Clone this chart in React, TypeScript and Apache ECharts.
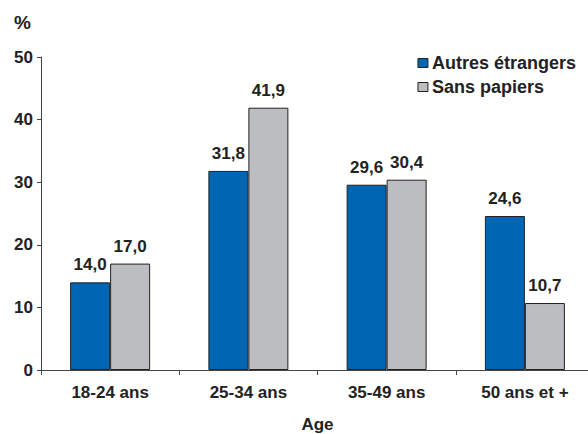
import React, { useEffect, useRef } from "react";
import * as echarts from "echarts";

const categories = ["18-24 ans", "25-34 ans", "35-49 ans", "50 ans et +"];
const autresEtrangers = [14.0, 31.8, 29.6, 24.6];
const sansPapiers = [17.0, 41.9, 30.4, 10.7];
const yTicks = [0, 10, 20, 30, 40, 50];

const FONT = "'Liberation Sans', Arial, sans-serif";

export default function App() {
  const ref = useRef<HTMLDivElement>(null);
  useEffect(() => {
    if (!ref.current) return;
    const chart = echarts.init(ref.current, null, { renderer: "svg" });
    const fmt = (p: any) => Number(p.value).toFixed(1).replace(".", ",");
    const labelBase = {
      show: true,
      position: "top",
      distance: 9,
      formatter: fmt,
      fontFamily: FONT,
      fontWeight: "bold",
      fontSize: 17,
      color: "#222",
    };
    chart.setOption({
      animation: false,
      backgroundColor: "#ffffff",
      textStyle: { fontFamily: FONT },
      grid: { left: 41, top: 57, bottom: 64, width: 553, outerBoundsMode: "none", containLabel: false },
      legend: {
        right: 7,
        top: 49,
        orient: "vertical",
        itemWidth: 10,
        itemHeight: 9,
        itemGap: 6,
        icon: "rect",
        itemStyle: { borderWidth: 1, borderColor: "#222" },
        textStyle: { fontFamily: FONT, fontWeight: "bold", fontSize: 18, color: "#222", padding: [0, 0, 0, -1] },
        data: ["Autres étrangers", "Sans papiers"],
      },
      graphic: [
        {
          type: "text",
          left: 14,
          top: 13,
          style: { text: "%", font: `bold 19px ${FONT}`, fill: "#222" },
        },
      ],
      xAxis: {
        type: "category",
        data: categories,
        name: "Age",
        nameLocation: "middle",
        nameGap: 46,
        nameTextStyle: { fontFamily: FONT, fontWeight: "bold", fontSize: 17, color: "#222" },
        axisLine: { lineStyle: { color: "#444", width: 1 } },
        axisTick: { show: true, length: 5, inside: false, lineStyle: { color: "#444" } },
        axisLabel: { fontFamily: FONT, fontWeight: "bold", fontSize: 17, color: "#222", margin: 14 },
      },
      yAxis: {
        type: "value",
        min: yTicks[0],
        max: yTicks[yTicks.length - 1],
        interval: 10,
        splitLine: { show: false },
        axisLine: { show: true, lineStyle: { color: "#444", width: 1 } },
        axisTick: { show: true, length: 4, lineStyle: { color: "#444" } },
        axisLabel: { fontFamily: FONT, fontWeight: "bold", fontSize: 17, color: "#222", margin: 8 },
      },
      series: [
        {
          name: "Autres étrangers",
          type: "bar",
          barWidth: 40,
          barGap: "0%",
          itemStyle: { color: "#0066b3", borderColor: "#222", borderWidth: 1 },
          label: labelBase,
          data: autresEtrangers,
        },
        {
          name: "Sans papiers",
          type: "bar",
          barWidth: 40,
          barGap: "0%",
          itemStyle: { color: "#bcbdc1", borderColor: "#222", borderWidth: 1 },
          label: labelBase,
          data: sansPapiers,
        },
      ],
    });
    return () => chart.dispose();
  }, []);
  return <div ref={ref} style={{ width: 588, height: 434, position: "absolute", left: 0, top: 0 }} />;
}
